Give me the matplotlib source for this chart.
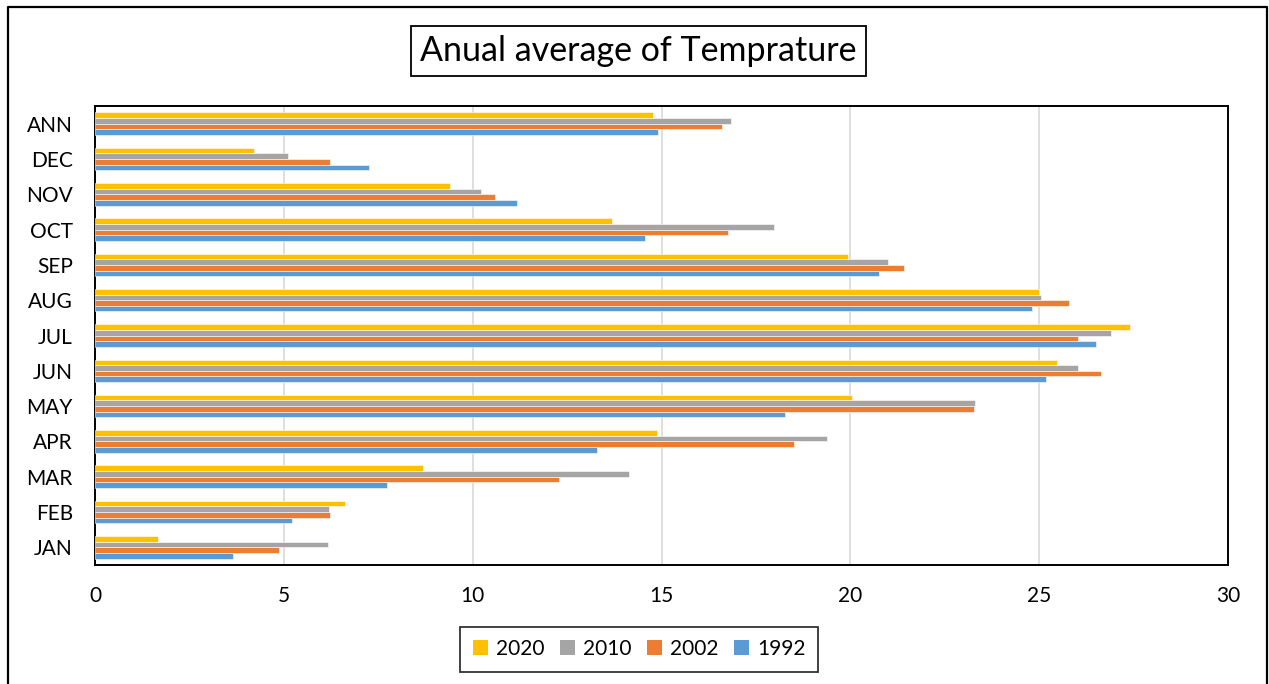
import matplotlib
matplotlib.use("Agg")
import matplotlib.pyplot as plt
import numpy as np
from matplotlib.patches import Patch
from matplotlib.lines import Line2D

plt.rcParams['font.family'] = ['Lato', 'DejaVu Sans']

# Monthly temperatures (bottom-to-top order on the chart)
months = ["JAN", "FEB", "MAR", "APR", "MAY", "JUN", "JUL", "AUG", "SEP", "OCT", "NOV", "DEC", "ANN"]
t1992 = [3.66, 5.21, 7.72, 13.30, 18.26, 25.18, 26.51, 24.81, 20.77, 14.55, 11.18, 7.26, 14.90]
t2002 = [4.86, 6.23, 12.28, 18.51, 23.28, 26.65, 26.03, 25.79, 21.43, 16.76, 10.59, 6.23, 16.61]
t2010 = [6.16, 6.19, 14.14, 19.39, 23.29, 26.03, 26.90, 25.05, 20.99, 17.99, 10.22, 5.11, 16.84]
t2020 = [1.67, 6.62, 8.68, 14.87, 20.04, 25.47, 27.40, 24.99, 19.95, 13.70, 9.40, 4.22, 14.77]

series_names = ["1992", "2002", "2010", "2020"]
series_vals = [t1992, t2002, t2010, t2020]
colors = ["#5B9BD5", "#ED7D31", "#A5A5A5", "#FFC000"]
xticks = [0, 5, 10, 15, 20, 25, 30]

W, H = 1269, 684
fig = plt.figure(figsize=(W / 100, H / 100), dpi=100)
ax = fig.add_axes([95 / W, 1 - 565 / H, (1228 - 95) / W, (565 - 106) / H])

y = np.arange(len(months))
h = 0.16
offsets = (np.arange(4) - 1.5) * h
for name, vals, col, off in zip(series_names, series_vals, colors, offsets):
    ax.barh(y + off, vals, height=h, color=col, edgecolor="white",
            linewidth=0.4, label=name, zorder=3)

ax.set_xlim(0, 30)
ax.set_ylim(-0.5, len(months) - 0.5)
ax.set_xticks(xticks)
ax.set_xticklabels([str(v) for v in xticks])
ax.set_yticks(y)
ax.set_yticklabels(months)
ax.tick_params(axis="both", length=0, labelsize=15, colors="black")
ax.tick_params(axis="x", pad=15)
ax.tick_params(axis="y", pad=16)
ax.grid(axis="x", color="#D9D9D9", linewidth=1.2, zorder=0)
for s in ax.spines.values():
    s.set_color("black")
    s.set_linewidth(1.4)

# Title with a boxed frame
fig.text(638.5 / W, 1 - 51 / H, "Anual average of Temprature", fontsize=24.5,
         ha="center", va="center",
         bbox=dict(boxstyle="square,pad=0.26", facecolor="white",
                   edgecolor="black", linewidth=1.3))

# Legend in upper-to-lower order: 2020, 2010, 2002, 1992
handles = [Patch(facecolor=c, edgecolor="none") for c in colors[::-1]]
leg = fig.legend(handles, series_names[::-1], loc="center",
                 bbox_to_anchor=(639 / W, 1 - 649 / H), ncol=4,
                 fontsize=15, frameon=True, fancybox=False,
                 handlelength=0.75, handleheight=0.75, handletextpad=0.35,
                 columnspacing=0.75, borderpad=0.6)
leg.get_frame().set_edgecolor("black")
leg.get_frame().set_linewidth(1.3)

# Outer chart border
fx = [8 / W, 8 / W, 1267 / W, 1267 / W]
fy = [-0.05, 1 - 7 / H, 1 - 7 / H, -0.05]
fig.add_artist(Line2D(fx, fy, color="black", linewidth=1.6,
                      transform=fig.transFigure))

fig.savefig("out.png", dpi=100, facecolor="white")
